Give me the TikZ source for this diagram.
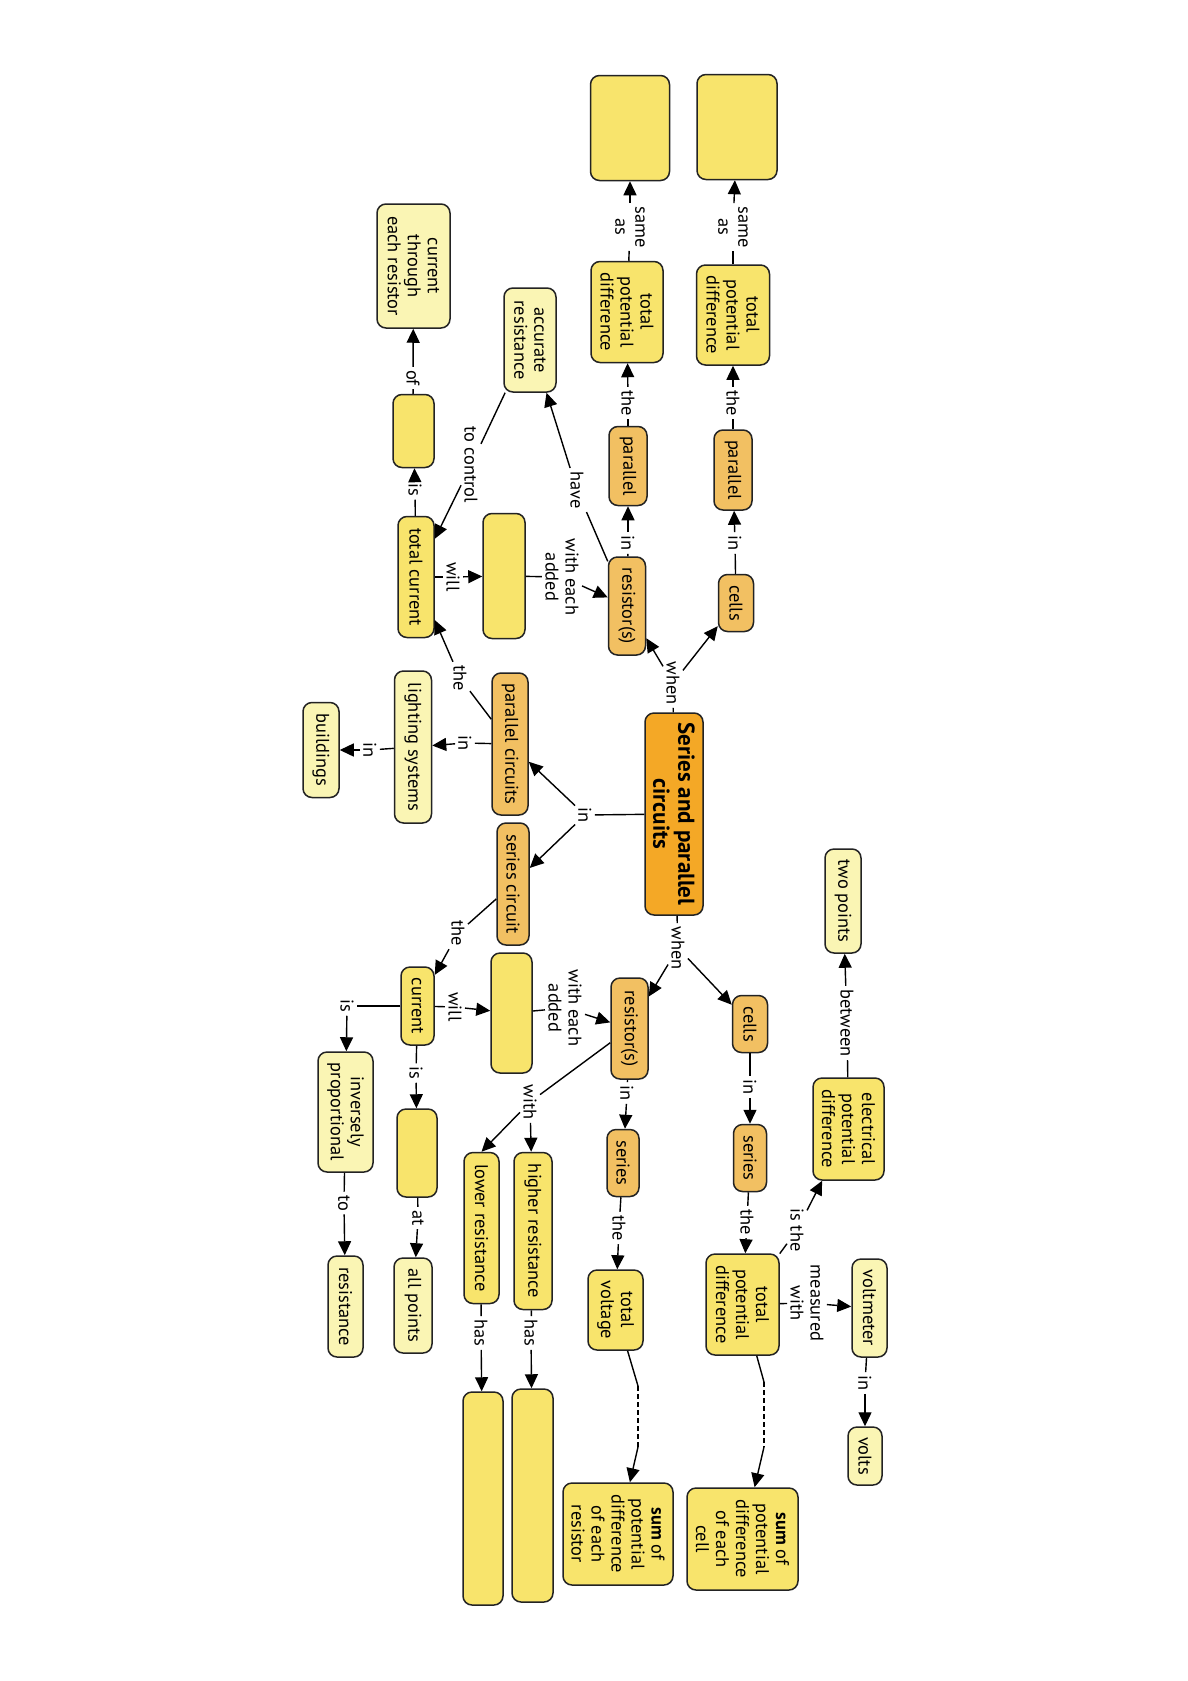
\documentclass[tikz,border=0pt]{standalone}
\usepackage{fontspec}
\setmainfont{PT Sans}
\usetikzlibrary{arrows.meta}

\definecolor{mainorange}{RGB}{244,168,38}
\definecolor{conorange}{RGB}{242,192,98}
\definecolor{conyellow}{RGB}{248,228,108}
\definecolor{conpale}{RGB}{250,245,180}
\definecolor{edgeline}{RGB}{35,35,35}

\begin{document}
\begin{tikzpicture}[x=0.5pt,y=-0.5pt,
  concept/.style={draw=edgeline, line width=0.75pt, rounded corners=4.5pt,
    rotate=-90, align=center, inner sep=2pt,
    font=\fontsize{9.2}{10}\selectfont},
  sz/.style 2 args={minimum width=0.5pt*#1, minimum height=0.5pt*#2},
  hub/.style={concept, fill=mainorange, font=\fontsize{11.5}{12.5}\selectfont\bfseries},
  ora/.style={concept, fill=conorange},
  yel/.style={concept, fill=conyellow},
  pal/.style={concept, fill=conpale},
  lab/.style={rotate=-90, align=center, inner sep=1.5pt,
    font=\fontsize{9.2}{10}\selectfont},
  link/.style={line width=0.7pt, draw=black},
  arr/.style={link, -{Triangle[length=7pt,width=6.5pt]}},
]
\path[use as bounding box, fill=white] (0,0) rectangle (1188,1681);

% ---------- central concept ----------
\node[hub, sz={202}{58}] (main) at (674,814) {Series and parallel\\circuits};

% ---------- parallel side (top) ----------
\node[yel, sz={105}{79}] (a1) at (630,128) {};
\node[yel, sz={105}{80}] (a2) at (737,127) {};
\node[yel, sz={101}{72}] (tpd1) at (627,312) {total\\potential\\difference};
\node[yel, sz={100}{73}] (tpd2) at (733,315) {total\\potential\\difference};
\node[ora, sz={79}{38}] (par1) at (628,466) {parallel};
\node[ora, sz={80}{38}] (par2) at (733,470) {parallel};
\node[ora, sz={98}{37}] (res1) at (627,606) {resistor(s)};
\node[ora, sz={57}{35}] (cells1) at (736,603) {cells};
\node[pal, sz={124}{73}] (curthr) at (413.5,266) {current\\through\\each resistor};
\node[pal, sz={104}{52}] (accres) at (530,340) {accurate\\resistance};
\node[yel, sz={73}{41}] (b1) at (413.5,431) {};
\node[yel, sz={121}{36}] (totcur) at (416,577) {total current};
\node[yel, sz={125}{42}] (b2) at (504,576) {};
\node[ora, sz={142}{36}] (parcirc) at (510,744) {parallel circuits};
\node[ora, sz={122}{32}] (sercirc) at (513,884) {series circuit};
\node[pal, sz={152}{37}] (light) at (413,747) {lighting systems};
\node[pal, sz={95}{36}] (build) at (321,750) {buildings};

% ---------- series side (bottom) ----------
\node[ora, sz={101}{37}] (res2) at (629.5,1028.5) {resistor(s)};
\node[ora, sz={57}{35}] (cells2) at (750,1024) {cells};
\node[pal, sz={104}{36}] (twopts) at (843,901) {two points};
\node[yel, sz={102}{71}] (epd) at (848.5,1129) {electrical\\potential\\difference};
\node[ora, sz={67}{33}] (ser2) at (750,1158) {series};
\node[ora, sz={67}{32}] (ser1) at (623,1163) {series};
\node[yel, sz={78}{33}] (cur) at (417.5,1006) {current};
\node[yel, sz={120}{41}] (b3) at (511.5,1013) {};
\node[pal, sz={120}{55}] (inv) at (345.5,1112) {inversely\\proportional};
\node[yel, sz={88}{40}] (b4) at (417,1153) {};
\node[yel, sz={157}{38}] (higher) at (533,1231) {higher resistance};
\node[yel, sz={151}{35}] (lower) at (481.5,1228) {lower resistance};
\node[pal, sz={101}{35}] (resist) at (345.5,1306.5) {resistance};
\node[pal, sz={95}{38}] (allpts) at (413,1305.5) {all points};
\node[yel, sz={80}{55}] (totvolt) at (615.5,1310) {total\\voltage};
\node[yel, sz={101}{73}] (tpd3) at (742.5,1304.5) {total\\potential\\difference};
\node[pal, sz={98}{35}] (voltm) at (869.5,1308) {voltmeter};
\node[pal, sz={58}{34}] (volts) at (865,1456) {volts};
\node[yel, sz={102}{110}] (sumres) at (618,1534) {\textbf{sum} of\\potential\\difference\\of each\\resistor};
\node[yel, sz={102}{111}] (sumcell) at (742.5,1539) {\textbf{sum} of\\potential\\difference\\of each\\cell};
\node[yel, sz={213}{40}] (big1) at (483,1498.5) {};
\node[yel, sz={213}{41}] (big2) at (532.5,1495.5) {};

% ---------- linking phrases ----------
\node[lab] (lsame1) at (630,227) {same\\as};
\node[lab] (lsame2) at (733,227) {same\\as};
\node[lab] (lthe1) at (628,403) {the};
\node[lab] (lthe2) at (733,403) {the};
\node[lab] (lin1) at (628,543) {in};
\node[lab] (lin2) at (735,543) {in};
\node[lab] (lof) at (413,378) {of};
\node[lab] (lis1) at (415,490) {is};
\node[lab] (lctrl) at (471,465) {to control};
\node[lab] (lhave) at (577,490) {have};
\node[lab] (lwill1) at (453,577) {will};
\node[lab] (lwea1) at (562,577) {with each\\added};
\node[lab] (lwhen1) at (673,683) {when};
\node[lab] (lin3) at (585,815) {in};
\node[lab] (lthe3) at (460,678) {the};
\node[lab] (lin4) at (465,743) {in};
\node[lab] (lin5) at (370,750) {in};
\node[lab] (lwhen2) at (678,948) {when};
\node[lab] (lthe4) at (458,933) {the};
\node[lab] (lwill2) at (455,1007) {will};
\node[lab] (lwea2) at (565,1008) {with each\\added};
\node[lab] (lis2) at (347,1006) {is};
\node[lab] (lis3) at (416,1073) {is};
\node[lab] (lwith) at (530,1102) {with};
\node[lab] (lin6) at (627,1093) {in};
\node[lab] (lin7) at (750,1087) {in};
\node[lab] (lbetw) at (847,1023) {between};
\node[lab] (lto) at (344,1203) {to};
\node[lab] (lat) at (418,1218) {at};
\node[lab] (lhas1) at (531,1333) {has};
\node[lab] (lhas2) at (481,1333) {has};
\node[lab] (lthe5) at (619,1228) {the};
\node[lab] (lthe6) at (747,1222) {the};
\node[lab] (listhe) at (797,1230) {is the};
\node[lab] (lmeas) at (807,1303) {measured\\with};
\node[lab] (lin8) at (865,1383) {in};

% free ends of the dashed links
\coordinate (dr1) at (638,1386);
\coordinate (dr2) at (638,1447);
\coordinate (dc1) at (764,1382);
\coordinate (dc2) at (764,1447);

% ---------- connectors: parallel side ----------
\draw[link] (main) -- (lwhen1);
\draw[arr] (lwhen1) -- (res1);
\draw[arr] (lwhen1) -- (cells1);
\draw[link] (cells1) -- (lin2);
\draw[arr] (lin2) -- (par2);
\draw[link] (par2) -- (lthe2);
\draw[arr] (lthe2) -- (tpd2);
\draw[link] (tpd2) -- (lsame2);
\draw[arr] (lsame2) -- (a2);
\draw[link] (res1) -- (lin1);
\draw[arr] (lin1) -- (par1);
\draw[link] (par1) -- (lthe1);
\draw[arr] (lthe1) -- (tpd1);
\draw[link] (tpd1) -- (lsame1);
\draw[arr] (lsame1) -- (a1);
\draw[link] (res1) -- (lhave);
\draw[arr] (lhave) -- (accres);
\draw[link] (accres) -- (lctrl);
\draw[arr] (lctrl) -- (totcur);
\draw[link] (totcur) -- (lis1);
\draw[arr] (lis1) -- (b1);
\draw[link] (b1) -- (lof);
\draw[arr] (lof) -- (curthr);
\draw[link] (totcur) -- (lwill1);
\draw[arr] (lwill1) -- (b2);
\draw[link] (b2) -- (lwea1);
\draw[arr] (lwea1) -- (res1);
\draw[link] (main) -- (lin3);
\draw[arr] (lin3) -- (parcirc);
\draw[arr] (lin3) -- (sercirc);
\draw[link] (parcirc) -- (lthe3);
\draw[arr] (lthe3) -- (totcur);
\draw[link] (parcirc) -- (lin4);
\draw[arr] (lin4) -- (light);
\draw[link] (light) -- (lin5);
\draw[arr] (lin5) -- (build);

% ---------- connectors: series side ----------
\draw[link] (main) -- (lwhen2);
\draw[arr] (lwhen2) -- (res2);
\draw[arr] (lwhen2) -- (cells2);
\draw[link] (cells2) -- (lin7);
\draw[arr] (lin7) -- (ser2);
\draw[link] (ser2) -- (lthe6);
\draw[arr] (lthe6) -- (tpd3);
\draw[link] (tpd3) -- (listhe);
\draw[arr] (listhe) -- (epd);
\draw[link] (epd) -- (lbetw);
\draw[arr] (lbetw) -- (twopts);
\draw[link] (tpd3) -- (lmeas);
\draw[arr] (lmeas) -- (voltm);
\draw[link] (voltm) -- (lin8);
\draw[arr] (lin8) -- (volts);
\draw[link] (tpd3) -- (dc1);
\draw[link, dashed, dash pattern=on 2.5pt off 1.5pt] (dc1) -- (dc2);
\draw[arr] (dc2) -- (sumcell);
\draw[link] (res2) -- (lin6);
\draw[arr] (lin6) -- (ser1);
\draw[link] (ser1) -- (lthe5);
\draw[arr] (lthe5) -- (totvolt);
\draw[link] (totvolt) -- (dr1);
\draw[link, dashed, dash pattern=on 2.5pt off 1.5pt] (dr1) -- (dr2);
\draw[arr] (dr2) -- (sumres);
\draw[link] (res2) -- (lwith);
\draw[arr] (lwith) -- (higher);
\draw[arr] (lwith) -- (lower.west);
\draw[link] (higher) -- (lhas1);
\draw[arr] (lhas1) -- (big2);
\draw[link] (lower) -- (lhas2);
\draw[arr] (lhas2) -- (big1);
\draw[link] (sercirc) -- (lthe4);
\draw[arr] (lthe4) -- (cur);
\draw[link] (cur) -- (lwill2);
\draw[arr] (lwill2) -- (b3);
\draw[link] (b3) -- (lwea2);
\draw[arr] (lwea2) -- (res2);
\draw[link] (cur) -- (lis3);
\draw[arr] (lis3) -- (b4);
\draw[link] (b4) -- (lat);
\draw[arr] (lat) -- (allpts);
\draw[link] (cur) -- (lis2);
\draw[arr] (lis2) -- (inv);
\draw[link] (inv) -- (lto);
\draw[arr] (lto) -- (resist);
\end{tikzpicture}
\end{document}
